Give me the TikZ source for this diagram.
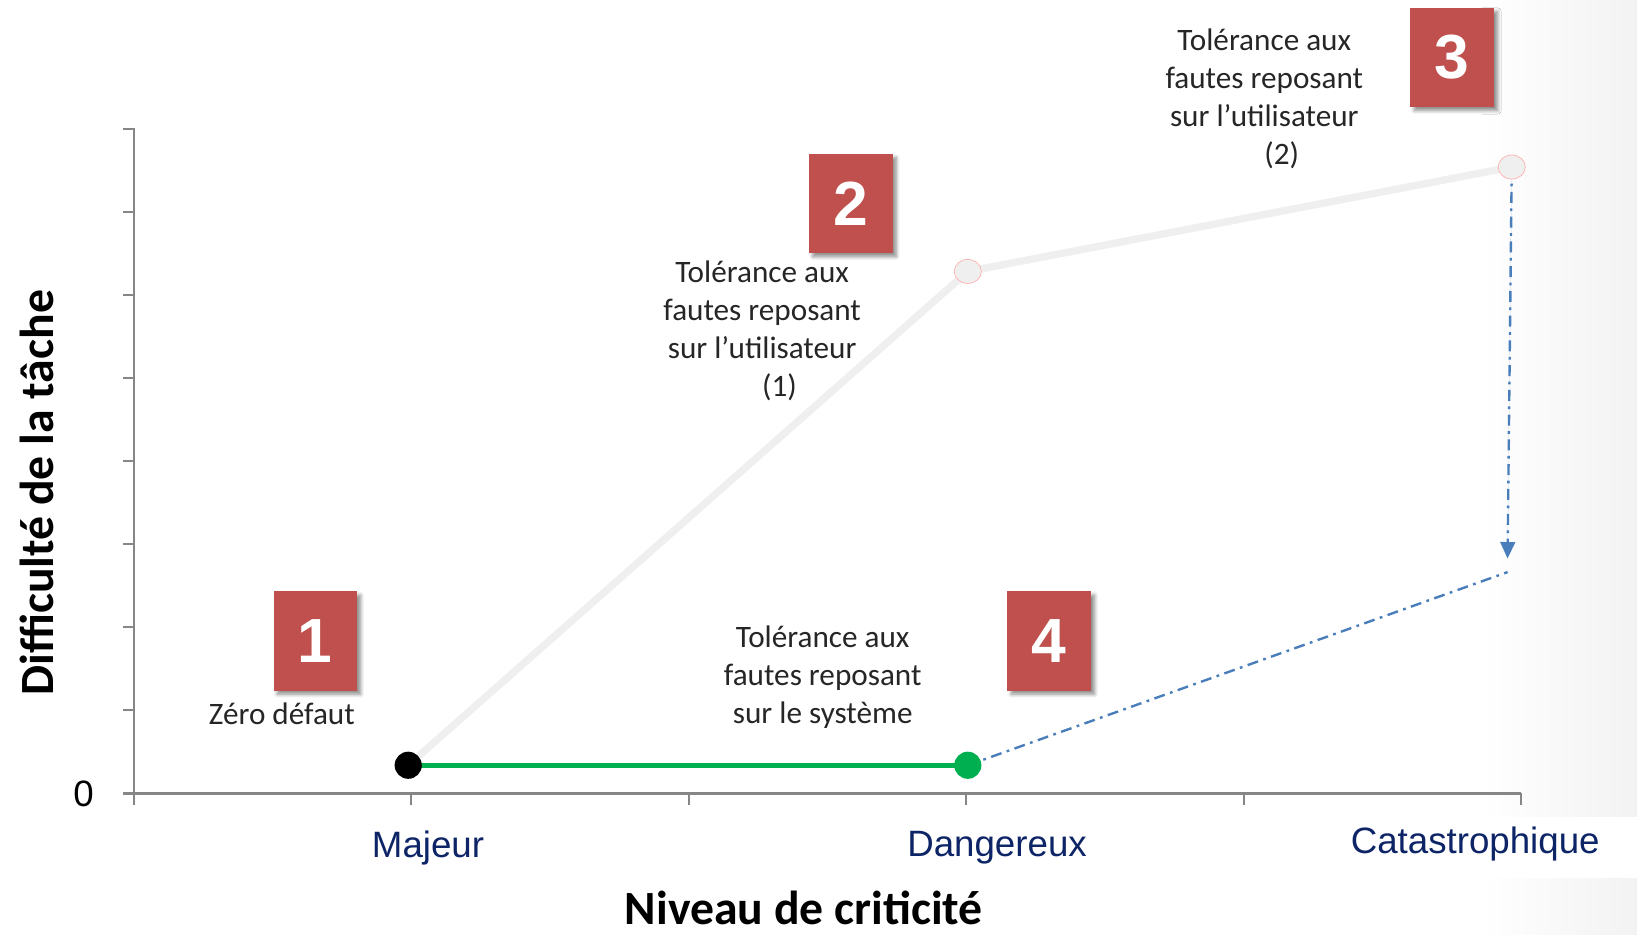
\documentclass[tikz,border=0pt]{standalone}
\usepackage{fontspec}
\setmainfont{Carlito}
\newfontfamily\arialfont{Liberation Sans}
\usepackage{tkz-euclide}
\usetikzlibrary{arrows.meta, shadows.blur, shapes.geometric}
\definecolor{boxred}{HTML}{C0504D}
\definecolor{okgreen}{HTML}{00B050}
\definecolor{dashblue}{HTML}{4A7EBB}
\definecolor{trendgray}{HTML}{EFEFEF}
\definecolor{axisgray}{HTML}{868686}
\definecolor{navy}{HTML}{0D2567}
\definecolor{txtgray}{HTML}{262626}
\tikzset{>={Triangle[length=9pt, width=8pt]}}

\begin{document}
\begin{tikzpicture}[x=2cm, y=2cm,
    numbox/.style={fill=boxred, text=white, inner sep=0pt,
        minimum width=1.6cm, minimum height=1.9cm,
        font=\arialfont\bfseries\fontsize{34}{34}\selectfont,
        blur shadow={shadow xshift=2pt, shadow yshift=-2pt, shadow blur steps=6, shadow opacity=45}},
    note/.style={align=center, text=txtgray, font=\fontsize{17}{20.7}\selectfont},
    level/.style={text=navy, font=\arialfont\fontsize{20}{24}\selectfont},
    title/.style={text=black, font=\bfseries\fontsize{26}{30}\selectfont},
    axis/.style={draw=axisgray, line width=1.2pt},
    dot/.style={circle, inner sep=0pt, minimum size=0.52cm},
    softdot/.style={ellipse, inner sep=0pt, minimum width=0.52cm, minimum height=0.46cm,
        fill=trendgray, draw=red!30, line width=0.4pt},
    dashdot/.style={draw=dashblue, line width=1.3pt,
        dash pattern=on 6pt off 3pt on 1.5pt off 3pt}]
    \useasboundingbox (0,0) rectangle (15.68,8.95);
    % background
    \shade[left color=white, right color=black!5] (14.2,0) rectangle (15.68,8.95);
    \fill[white] (12.90,0.54) rectangle (15.68,1.12);
    % axes
    \tkzDefPoints{1.28/1.35/O, 1.28/7.72/Y, 14.57/1.35/X}
    \draw[axis] (Y) -- (O) -- (X);
    \foreach \i in {0,...,8}
        \draw[axis] (1.28,{1.35+0.796*\i}) -- ++(-0.10,0);
    \foreach \i in {0,...,5}
        \draw[axis] ({1.28+2.658*\i},1.35) -- ++(0,-0.11);
    \node[text=black, font=\arialfont\fontsize{20}{24}\selectfont] (zero) at (0.80,1.35) {0};
    \node[level] (majeur) at (4.10,0.83) {Majeur};
    \node[level] (dangereux) at (9.55,0.83) {Dangereux};
    \node[level] (catastrophique) at (14.13,0.87) {Catastrophique};
    \node[title] (xlabel) at (7.70,0.25) {Niveau de criticité};
    \node[title, rotate=90] (ylabel) at (0.35,4.23) {Difficulté de la tâche};
    % curves
    \tkzDefPoints{3.91/1.62/A, 9.27/1.62/B, 9.27/6.35/C, 14.48/7.35/D, 14.44/3.47/E, 14.44/3.60/F}
    \draw[draw=trendgray, line width=4pt] (A) -- (C) -- (D);
    \draw[draw=okgreen, line width=2.8pt] (A) -- (B);
    \draw[dashdot] (B) -- (E);
    \draw[dashdot, ->, fill=dashblue] (D) -- (F);
    \node[dot, fill=black] (dA) at (A) {};
    \node[dot, fill=okgreen] (dB) at (B) {};
    \node[softdot] (dC) at (C) {};
    \node[softdot] (dD) at (D) {};
    % steps
    \node[numbox] (box1) at (3.02,2.81) {1};
    \node[numbox] (box2) at (8.15,7.00) {2};
    \node[numbox] (box3) at (13.91,8.40) {3};
    \node[numbox] (box4) at (10.05,2.81) {4};
    \node[note] (zerodef) at (2.70,2.11) {Zéro défaut};
    \node[note] (user1) at (7.30,5.78) {Tolérance aux\\fautes reposant\\sur l’utilisateur\\\hspace*{19pt}(1)};
    \node[note] (user2) at (12.11,8.00) {Tolérance aux\\fautes reposant\\sur l’utilisateur\\\hspace*{19pt}(2)};
    \node[note] (system) at (7.88,2.46) {Tolérance aux\\fautes reposant\\sur le système};
\end{tikzpicture}
\end{document}
